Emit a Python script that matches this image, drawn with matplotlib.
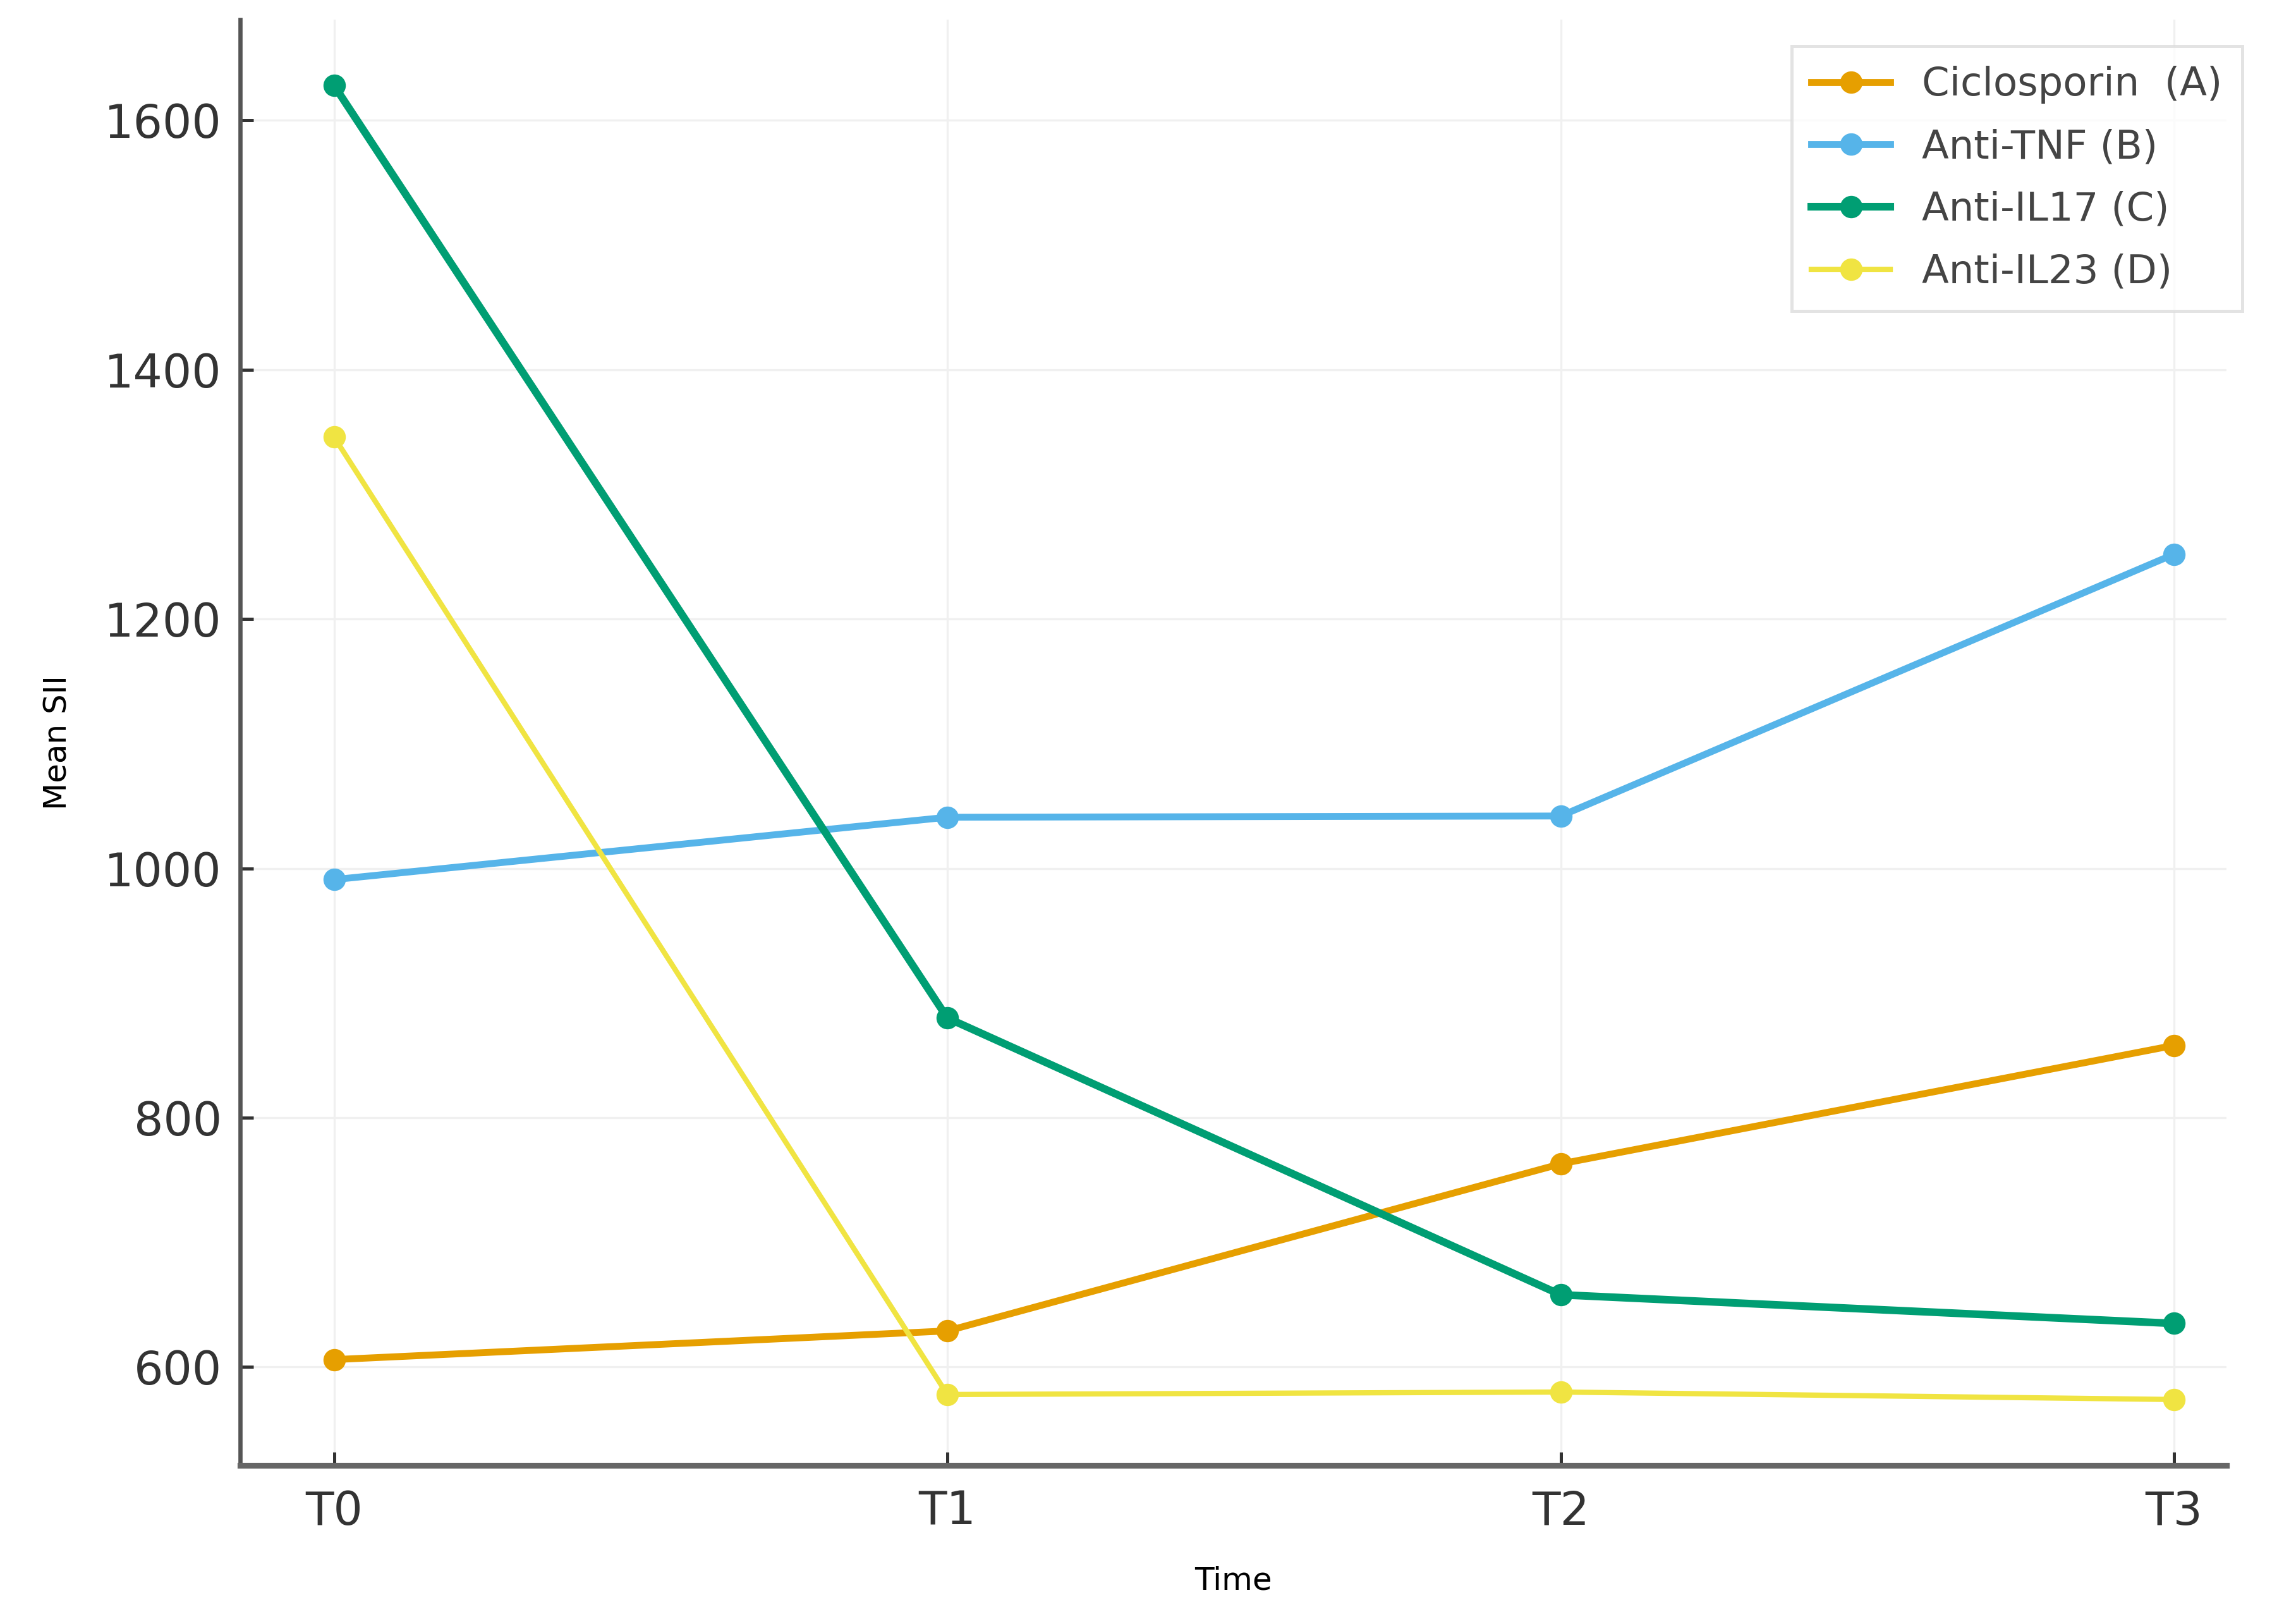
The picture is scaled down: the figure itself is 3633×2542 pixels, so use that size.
import matplotlib
matplotlib.use("Agg")
import matplotlib.pyplot as plt

times = ["T0", "T1", "T2", "T3"]
ciclosporin = [606, 629, 763, 858]
anti_tnf = [991, 1041, 1042, 1252]
anti_il17 = [1628, 880, 658, 635]
anti_il23 = [1346, 578, 580, 574]

labels = ["Ciclosporin  (A)", "Anti-TNF (B)", "Anti-IL17 (C)", "Anti-IL23 (D)"]
colors = ["#E69F00", "#56B4E9", "#009E73", "#F0E442"]
widths = [2.6, 2.6, 2.9, 2.0]

fig = plt.figure(figsize=(3633 / 300, 2542 / 300), dpi=300)
ax = fig.add_axes([0.1046, 0.088, 0.865, 0.90])

x = list(range(len(times)))
for vals, lab, c, lw in zip([ciclosporin, anti_tnf, anti_il17, anti_il23], labels, colors, widths):
    ax.plot(x, vals, marker="o", markersize=7.5, color=c, linewidth=lw, label=lab)

ax.set_xticks(x)
ax.set_xticklabels(times)
ax.set_xlim(-0.153, 3.085)
ax.set_ylim(521, 1681)
ax.set_yticks([600, 800, 1000, 1200, 1400, 1600])

ax.grid(True, color="#f0f0f0", linewidth=0.8)
ax.set_axisbelow(True)
for s in ["top", "right"]:
    ax.spines[s].set_visible(False)
ax.spines["left"].set_color("#555555")
ax.spines["left"].set_linewidth(1.6)
ax.spines["bottom"].set_color("#666666")
ax.spines["bottom"].set_linewidth(2.2)

ax.tick_params(axis="both", direction="in", labelsize=17.5, colors="#333333", length=5, width=1.2)
ax.tick_params(axis="y", pad=7)
ax.tick_params(axis="x", pad=9)

ax.set_xlabel("Time", fontsize=12, labelpad=12)
ax.set_ylabel("Mean SII", fontsize=12, labelpad=12)

leg = ax.legend(loc="upper right", fontsize=15, frameon=True, fancybox=False,
                edgecolor="#dddddd", borderpad=0.5, labelspacing=0.62,
                handlelength=2.0, handletextpad=0.8,
                bbox_to_anchor=(1.018, 0.995), labelcolor="#444444")
leg.get_frame().set_linewidth(1.2)

fig.savefig("out.png", dpi=300)
